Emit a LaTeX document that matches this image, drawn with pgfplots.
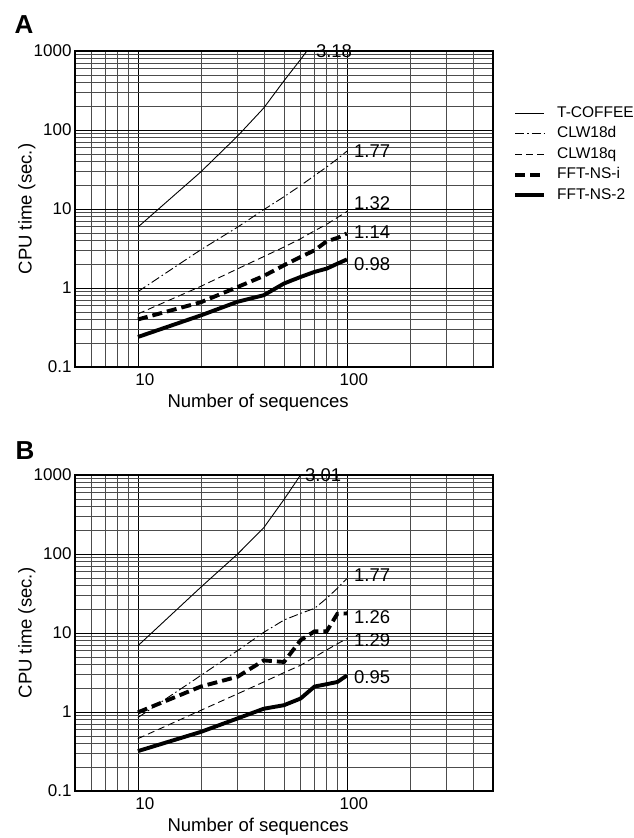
\documentclass[border=0pt]{standalone}
\usepackage{fontspec}
\setmainfont{Liberation Sans}
\usepackage{pgfplots}
\pgfplotsset{compat=1.18}

\pgfplotsset{
  every axis/.append style={
    scale only axis, width=418pt, height=316pt,
    xmin=5, xmax=500, ymin=0.1, ymax=1000,
    xtick={10,100}, xticklabels={\mbox{10},\mbox{100}},
    ytick={0.1,1,10,100,1000},
    yticklabels={\mbox{0.1},\mbox{1},\mbox{10},\mbox{100},\mbox{1000}},
    minor xtick={6,7,8,9,20,30,40,50,60,70,80,90,200,300,400},
    minor ytick={0.2,0.3,0.4,0.5,0.6,0.7,0.8,0.9,2,3,4,5,6,7,8,9,
                 20,30,40,50,60,70,80,90,200,300,400,500,600,700,800,900},
    grid=both,
    major grid style={black, line width=0.7pt},
    minor grid style={black!70, line width=0.5pt},
    major tick length=0pt, minor tick length=0pt,
    axis line style={line width=1.3pt},
    tick label style={font=\fontsize{17}{17}\selectfont},
    xticklabel style={xshift=7pt, yshift=-3pt},
    label style={font=\fontsize{18.5}{18.5}\selectfont},
    xlabel={Number of sequences},
    ylabel={CPU time (sec.)},
    x label style={at={(axis description cs:0.438,-0.114)}, anchor=center},
    y label style={at={(axis description cs:-0.115,0.5)}, anchor=center},
    clip mode=individual,
  },
}
\tikzset{
  tcoffee/.style={black, line width=0.9pt, solid},
  clwd/.style={black, line width=0.9pt, dash pattern=on 9pt off 3pt on 1.5pt off 3pt},
  clwq/.style={black, line width=0.9pt, dash pattern=on 7pt off 4pt},
  fftnsi/.style={black, line width=3.9pt, dash pattern=on 10pt off 5pt},
  fftns2/.style={black, line width=3.9pt, line join=round},
  slope/.style={anchor=west, inner sep=0pt, font=\fontsize{18.5}{18.5}\selectfont},
}

\begin{document}
\begin{tikzpicture}

% panel A
\begin{loglogaxis}[at={(75pt,-367pt)}, anchor=south west,
  legend style={at={(axis description cs:1.048,0.836)}, anchor=north west,
    draw=none, fill=none, inner sep=0pt, column sep=9pt, row sep=0pt,
    font=\fontsize{15.5}{15.5}\selectfont,
    nodes={inner sep=2pt, text height=12pt, text depth=4.5pt}},
  legend cell align=left,
  legend image code/.code={\draw[#1] (0pt,0pt) -- (29pt,0pt);},
]
\addplot[tcoffee] coordinates {
(10,5.9)(20,29.5)(30,84)(40,190)(50,420)(60,780)(70,1350)
};
\addplot[clwd] coordinates {
(10,0.9)(20,3.05)(30,5.9)(40,9.8)(50,14.3)(60,19.8)(70,26.5)(80,34)(90,43)(100,54)
};
\addplot[clwq] coordinates {
(10,0.47)(20,1.05)(30,1.75)(40,2.5)(50,3.3)(60,4.2)(70,5.3)(80,6.4)(90,7.8)(100,9.3)
};
\addplot[fftnsi] coordinates {
(10,0.4)(20,0.66)(30,1.03)(40,1.42)(50,1.94)(60,2.47)(70,3.0)(80,3.9)(90,4.3)(100,4.9)
};
\addplot[fftns2] coordinates {
(10,0.24)(20,0.45)(30,0.67)(40,0.81)(50,1.14)(60,1.38)(70,1.6)(80,1.76)(90,2.03)(100,2.3)
};
\legend{T-COFFEE,CLW18d,CLW18q,FFT-NS-i,FFT-NS-2}
\node[slope] at (axis cs:71,1000) {3.18};
\node[slope] at (axis cs:108,53.7) {1.77};
\node[slope] at (axis cs:108,11.9) {1.32};
\node[slope] at (axis cs:108,5.14) {1.14};
\node[slope] at (axis cs:108,1.98) {0.98};
\end{loglogaxis}

% panel B
\begin{loglogaxis}[at={(75pt,-791pt)}, anchor=south west]
\addplot[tcoffee] coordinates {
(10,6.9)(20,38)(30,100)(40,215)(50,490)(60,1000)(70,1900)
};
\addplot[clwd] coordinates {
(10,0.85)(20,2.9)(30,6.0)(40,10.2)(50,14.6)(60,17.7)(70,20.5)(80,27.5)(90,36.8)(100,49)
};
\addplot[clwq] coordinates {
(10,0.46)(20,1.05)(30,1.7)(40,2.4)(50,3.15)(60,3.9)(70,4.95)(80,6.1)(90,7.3)(100,8.5)
};
\addplot[fftnsi] coordinates {
(10,0.99)(20,2.1)(30,2.8)(40,4.5)(50,4.3)(60,8.1)(70,10.5)(80,10.5)(90,17.5)(100,17.7)
};
\addplot[fftns2] coordinates {
(10,0.32)(20,0.56)(30,0.83)(40,1.1)(50,1.22)(60,1.48)(70,2.1)(80,2.25)(90,2.4)(100,2.9)
};
\node[slope] at (axis cs:63,1000) {3.01};
\node[slope] at (axis cs:108,54) {1.77};
\node[slope] at (axis cs:108,16) {1.26};
\node[slope] at (axis cs:108,8.15) {1.29};
\node[slope] at (axis cs:108,2.77) {0.95};
\end{loglogaxis}

\node[font=\fontsize{26}{26}\selectfont\bfseries] at (24pt,-25pt) {A};
\node[font=\fontsize{26}{26}\selectfont\bfseries] at (25pt,-451pt) {B};

\pgfresetboundingbox
\useasboundingbox (0pt,0pt) rectangle (634pt,-838pt);
\end{tikzpicture}
\end{document}
